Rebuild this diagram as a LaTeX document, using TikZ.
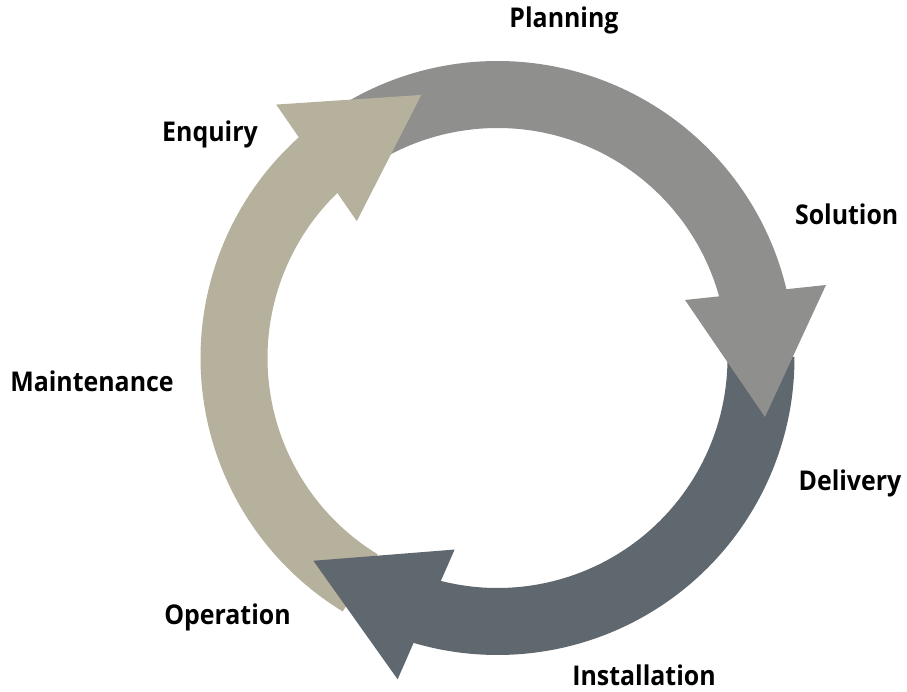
\documentclass[tikz,border=0pt]{standalone}
\usepackage{fontspec}
\setmainfont{Open Sans}[FakeStretch=0.916]
\definecolor{planGray}{RGB}{143,143,141}
\definecolor{enqBeige}{RGB}{181,177,156}
\definecolor{instDark}{RGB}{95,103,111}
\begin{document}
\begin{tikzpicture}[x=1pt,y=1pt,
  lbl/.style={font=\fontsize{27.2}{30}\selectfont\bfseries, anchor=base, inner sep=0pt, text=black}
]
\useasboundingbox (0,0) rectangle (907,691);
\coordinate (C) at (497.5,333);
% shafts
\begin{scope}[shift={(C)}]
  \fill[planGray] (120:297) arc[start angle=120,end angle=12,radius=297] -- (12:230) arc[start angle=12,end angle=120,radius=230] -- cycle;
  \begin{scope}[rotate=118.6]
    \fill[enqBeige] (120:297) arc[start angle=120,end angle=12,radius=297] -- (12:230) arc[start angle=12,end angle=120,radius=230] -- cycle;
  \end{scope}
  \begin{scope}[rotate=240.2]
    \fill[instDark] (120:297) arc[start angle=120,end angle=12,radius=297] -- (12:230) arc[start angle=12,end angle=120,radius=230] -- cycle;
  \end{scope}
  % heads
  \fill[planGray] (12.53:336.5) -- (-12.44:273.9) -- (17.19:196.3) -- cycle;
  \begin{scope}[rotate=118.6]
    \fill[enqBeige] (12.53:336.5) -- (-12.44:273.9) -- (17.19:196.3) -- cycle;
  \end{scope}
  \begin{scope}[rotate=240.2]
    \fill[instDark] (12.53:336.5) -- (-12.44:273.9) -- (17.19:196.3) -- cycle;
  \end{scope}
\end{scope}
% labels
\node[lbl] (planning) at (564,663.7) {Planning};
\node[lbl] (enquiry) at (210,549.3) {Enquiry};
\node[lbl] (solution) at (846.7,466) {Solution};
\node[lbl] (maintenance) at (92,299.3) {Maintenance};
\node[lbl] (delivery) at (850,200.3) {Delivery};
\node[lbl] (operation) at (227.5,66.7) {Operation};
\node[lbl] (installation) at (644,5.8) {Installation};
\end{tikzpicture}
\end{document}
